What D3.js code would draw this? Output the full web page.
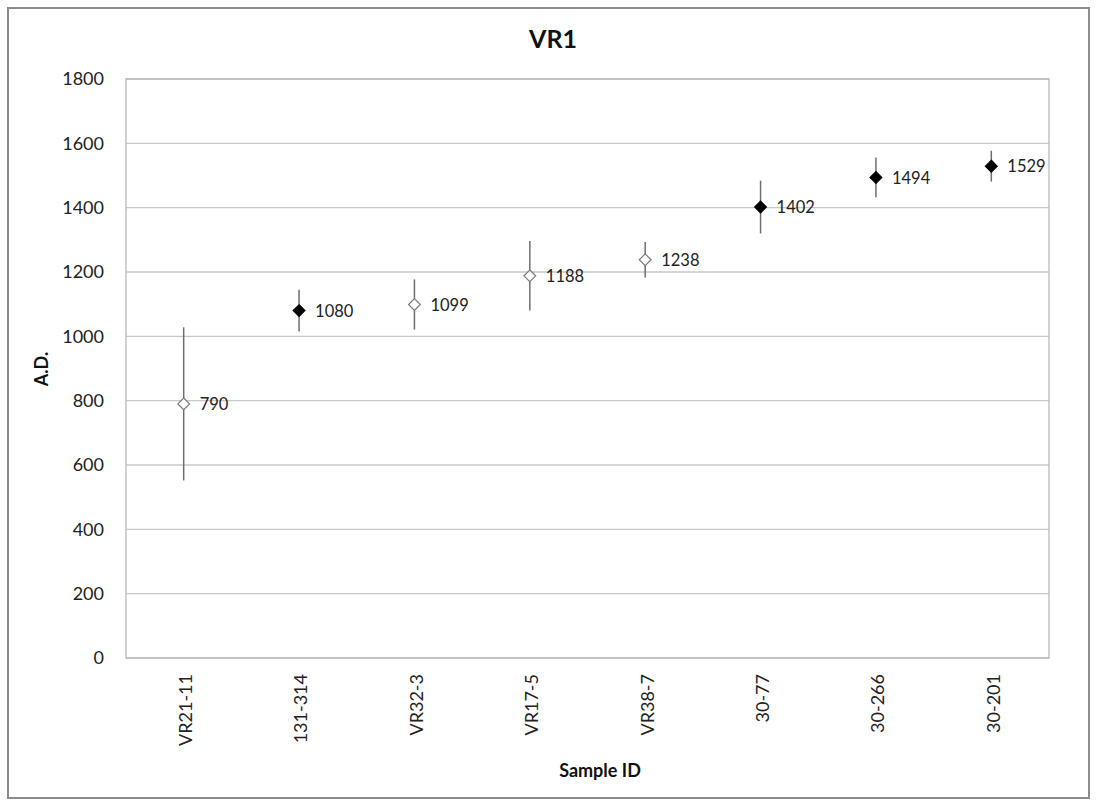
<!DOCTYPE html>
<html><head><meta charset="utf-8">
<script src="https://cdn.jsdelivr.net/npm/d3@7"></script>
<style>body{margin:0;background:#fff;} text{font-family:Lato,"Open Sans",sans-serif;}</style>
</head><body><svg id="c" width="1097" height="801"></svg>
<script>
const categories = ["VR21-11","131-314","VR32-3","VR17-5","VR38-7","30-77","30-266","30-201"];
const values = [790,1080,1099,1188,1238,1402,1494,1529];
const errors = [238,65,78,108,55,82,62,48];
const filled = [false,true,false,false,false,true,true,true];
const yTicks = [0,200,400,600,800,1000,1200,1400,1600,1800];

const svg = d3.select("#c");
const L=126,R=1049,T=79,B=658;
svg.append("rect").attr("x",8).attr("y",8).attr("width",1081).attr("height",790)
  .attr("fill","#fff").attr("stroke","#8c8c8c").attr("stroke-width",2);

const x = d3.scaleBand().domain(categories).range([L,R]);
const y = d3.scaleLinear().domain([0,1800]).range([B,T]);

// gridlines
svg.append("g").selectAll("line").data(yTicks).join("line")
  .attr("x1",L).attr("x2",R).attr("y1",d=>y(d)).attr("y2",d=>y(d))
  .attr("stroke","#c8c8c8").attr("stroke-width",1.3);
svg.append("rect").attr("x",L).attr("y",T).attr("width",R-L).attr("height",B-T)
  .attr("fill","none").attr("stroke","#b8b8b8").attr("stroke-width",1.3);

// y axis
const ya = svg.append("g").attr("transform",`translate(${L},0)`)
  .call(d3.axisLeft(y).tickValues(yTicks).tickFormat(d3.format("d")).tickSize(0).tickPadding(22));
ya.select(".domain").remove();
ya.selectAll("text").attr("font-size",18).attr("fill","#222").style("font-family","Lato,'Open Sans',sans-serif");

// x axis
const xa = svg.append("g").attr("transform",`translate(0,${B})`)
  .call(d3.axisBottom(x).tickSize(0));
xa.select(".domain").remove();
xa.selectAll("text").attr("font-size",18).attr("fill","#222")
  .style("font-family","Lato,'Open Sans',sans-serif")
  .attr("transform","rotate(-90)").attr("text-anchor","end")
  .attr("x",-16).attr("y",2).attr("dy","0.35em");

// error bars
const cx = d=>x(d)+x.bandwidth()/2;
svg.append("g").selectAll("line").data(categories).join("line")
  .attr("x1",cx).attr("x2",cx)
  .attr("y1",(d,i)=>y(values[i]+errors[i])).attr("y2",(d,i)=>y(values[i]-errors[i]))
  .attr("stroke","#6e6e6e").attr("stroke-width",1.5);

// markers
const sym = d3.symbol().type(d3.symbolDiamond2).size(88);
svg.append("g").selectAll("path").data(categories).join("path")
  .attr("d",sym)
  .attr("transform",(d,i)=>`translate(${cx(d)},${y(values[i])})`)
  .attr("fill",(d,i)=>filled[i]?"#000":"#fff")
  .attr("stroke",(d,i)=>filled[i]?"#000":"#7a7a7a").attr("stroke-width",1.2);

// data labels
svg.append("g").selectAll("text").data(categories).join("text")
  .attr("x",d=>cx(d)+16).attr("y",(d,i)=>y(values[i])).attr("dy","0.38em")
  .attr("font-size",16.5).attr("fill","#222").text((d,i)=>values[i]);

// titles
svg.append("text").attr("x",553).attr("y",48).attr("text-anchor","middle")
  .attr("font-size",25).attr("font-weight","bold").attr("fill","#111").text("VR1");
svg.append("text").attr("transform","translate(48,369) rotate(-90)").attr("text-anchor","middle")
  .attr("font-size",18).attr("font-weight","bold").attr("fill","#111").text("A.D.");
svg.append("text").attr("x",600).attr("y",777).attr("text-anchor","middle")
  .attr("font-size",18).attr("font-weight","bold").attr("fill","#111").text("Sample ID");
</script></body></html>
